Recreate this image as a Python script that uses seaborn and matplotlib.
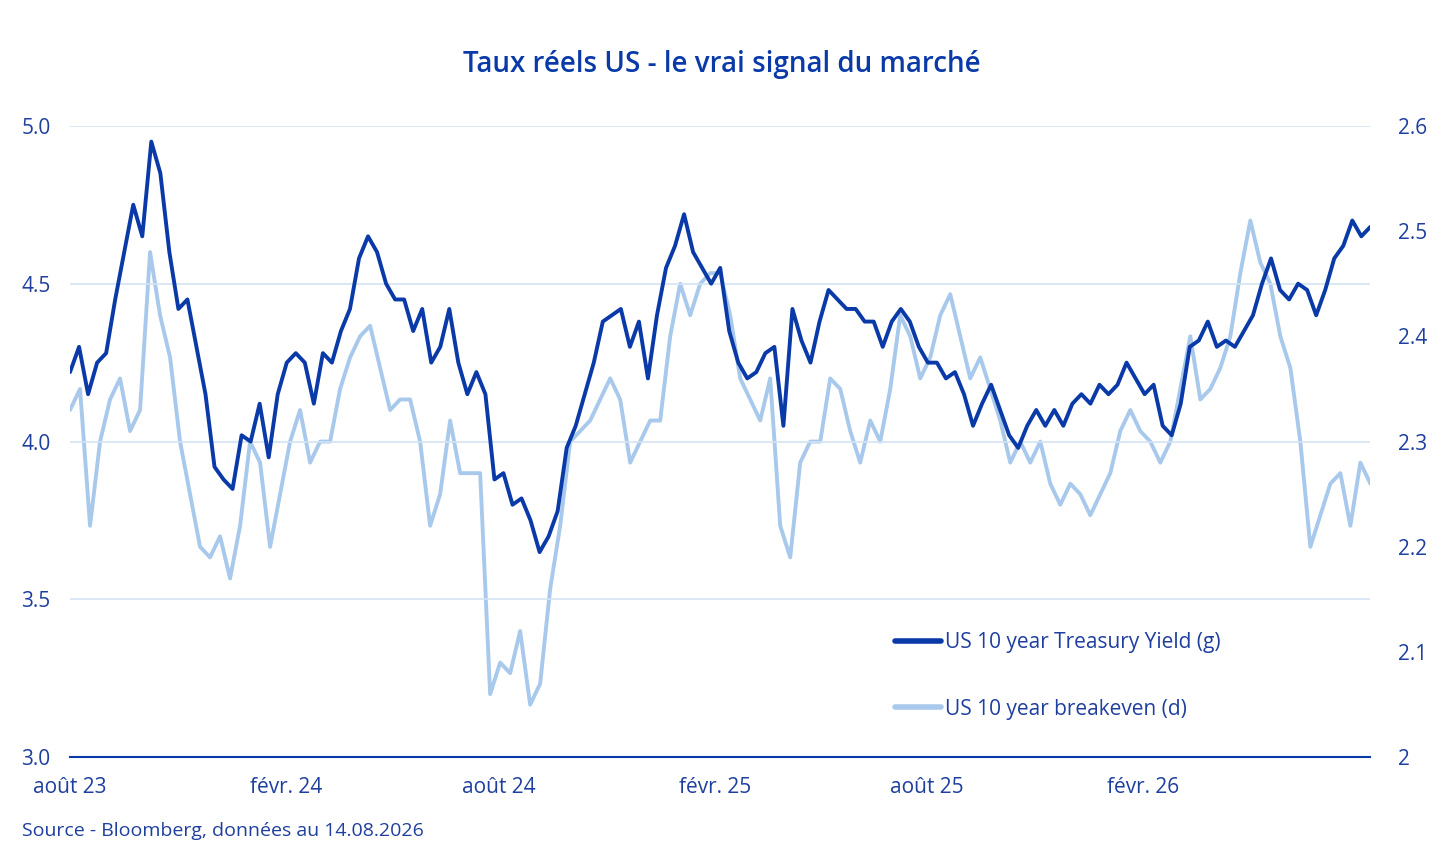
import numpy as np
import pandas as pd
import matplotlib.pyplot as plt
import matplotlib.dates as mdates
import seaborn as sns

# Données (approx. hebdomadaire)
treasury = [4.22, 4.3, 4.15, 4.25, 4.28, 4.45, 4.6, 4.75, 4.65, 4.95, 4.85, 4.6, 4.42, 4.45, 4.3,
            4.15, 3.92, 3.88, 3.85, 4.02, 4.0, 4.12, 3.95, 4.15, 4.25, 4.28, 4.25, 4.12, 4.28, 4.25,
            4.35, 4.42, 4.58, 4.65, 4.6, 4.5, 4.45, 4.45, 4.35, 4.42, 4.25, 4.3, 4.42, 4.25, 4.15,
            4.22, 4.15, 3.88, 3.9, 3.8, 3.82, 3.75, 3.65, 3.7, 3.78, 3.98, 4.05, 4.15, 4.25, 4.38,
            4.4, 4.42, 4.3, 4.38, 4.2, 4.4, 4.55, 4.62, 4.72, 4.6, 4.55, 4.5, 4.55, 4.35, 4.25,
            4.2, 4.22, 4.28, 4.3, 4.05, 4.42, 4.32, 4.25, 4.38, 4.48, 4.45, 4.42, 4.42, 4.38, 4.38,
            4.3, 4.38, 4.42, 4.38, 4.3, 4.25, 4.25, 4.2, 4.22, 4.15, 4.05, 4.12, 4.18, 4.1, 4.02,
            3.98, 4.05, 4.1, 4.05, 4.1, 4.05, 4.12, 4.15, 4.12, 4.18, 4.15, 4.18, 4.25, 4.2, 4.15,
            4.18, 4.05, 4.02, 4.12, 4.3, 4.32, 4.38, 4.3, 4.32, 4.3, 4.35, 4.4, 4.5, 4.58, 4.48,
            4.45, 4.5, 4.48, 4.4, 4.48, 4.58, 4.62, 4.7, 4.65, 4.68]
breakeven = [2.33, 2.35, 2.22, 2.3, 2.34, 2.36, 2.31, 2.33, 2.48, 2.42, 2.38, 2.3, 2.25, 2.2, 2.19,
             2.21, 2.17, 2.22, 2.3, 2.28, 2.2, 2.25, 2.3, 2.33, 2.28, 2.3, 2.3, 2.35, 2.38, 2.4,
             2.41, 2.37, 2.33, 2.34, 2.34, 2.3, 2.22, 2.25, 2.32, 2.27, 2.27, 2.27, 2.06, 2.09, 2.08,
             2.12, 2.05, 2.07, 2.16, 2.22, 2.3, 2.31, 2.32, 2.34, 2.36, 2.34, 2.28, 2.3, 2.32, 2.32,
             2.4, 2.45, 2.42, 2.45, 2.46, 2.46, 2.42, 2.36, 2.34, 2.32, 2.36, 2.22, 2.19, 2.28, 2.3,
             2.3, 2.36, 2.35, 2.31, 2.28, 2.32, 2.3, 2.35, 2.42, 2.4, 2.36, 2.38, 2.42, 2.44, 2.4,
             2.36, 2.38, 2.35, 2.32, 2.28, 2.3, 2.28, 2.3, 2.26, 2.24, 2.26, 2.25, 2.23, 2.25, 2.27,
             2.31, 2.33, 2.31, 2.3, 2.28, 2.3, 2.35, 2.4, 2.34, 2.35, 2.37, 2.4, 2.46, 2.51, 2.47,
             2.45, 2.4, 2.37, 2.3, 2.2, 2.23, 2.26, 2.27, 2.22, 2.28, 2.26]

start, end = "2023-08-01", "2026-08-14"
df_t = pd.DataFrame({"date": pd.date_range(start, end, periods=len(treasury)), "val": treasury})
df_b = pd.DataFrame({"date": pd.date_range(start, end, periods=len(breakeven)), "val": breakeven})

dark = "#0a3aa8"
light = "#a8c9ec"
txt = "#1f3f9e"

sns.set_style("white")
plt.rcParams["font.family"] = ["Open Sans", "DejaVu Sans"]

fig = plt.figure(figsize=(14.44, 8.5), dpi=100)
ax = fig.add_axes([0.0485, 0.109, 0.9005, 0.743])
ax2 = ax.twinx()

sns.lineplot(data=df_b, x="date", y="val", ax=ax2, color=light, linewidth=2.8)
sns.lineplot(data=df_t, x="date", y="val", ax=ax, color=dark, linewidth=2.8)
ax.set_zorder(ax2.get_zorder() + 1)
ax.patch.set_visible(False)

ax.set_ylim(3.0, 5.0)
ax2.set_ylim(2.0, 2.6)
ax.set_yticks([3.0, 3.5, 4.0, 4.5, 5.0])
ax.set_yticklabels(["3.0", "3.5", "4.0", "4.5", "5.0"])
ax2.set_yticks([2.0, 2.1, 2.2, 2.3, 2.4, 2.5, 2.6])
ax2.set_yticklabels(["2", "2.1", "2.2", "2.3", "2.4", "2.5", "2.6"])
ax.set_xlim(pd.Timestamp(start), pd.Timestamp(end))
ticks = pd.to_datetime(["2023-08-01", "2024-02-01", "2024-08-01", "2025-02-01", "2025-08-01", "2026-02-01"])
ax.set_xticks(ticks)
ax.set_xticklabels(["août 23", "févr. 24", "août 24", "févr. 25", "août 25", "févr. 26"])

ax.grid(axis="y", color="#d3e3f3", linewidth=1.2)
ax.set_axisbelow(True)
for a in (ax, ax2):
    a.set_xlabel("")
    a.set_ylabel("")
    for s in ("top", "right", "left", "bottom"):
        a.spines[s].set_visible(False)
ax.spines["bottom"].set_visible(True)
ax.spines["bottom"].set_color(dark)
ax.spines["bottom"].set_linewidth(1.5)
ax.tick_params(axis="x", colors=txt, labelsize=15, length=8, width=1.5, color=dark, direction="out", pad=6)
ax.tick_params(axis="y", colors=txt, labelsize=15, length=0, pad=14)
ax2.tick_params(axis="y", colors=txt, labelsize=15, length=0, pad=20)

h1, = ax.plot([], [], color=dark, linewidth=4)
h2, = ax.plot([], [], color=light, linewidth=4)
leg = ax.legend([h1, h2], ["US 10 year Treasury Yield (g)", "US 10 year breakeven (d)"],
                loc="lower left", bbox_to_anchor=(0.62, 0.03), frameon=False, fontsize=15,
                handlelength=2.2, handletextpad=0.2, labelspacing=2.2)
for t in leg.get_texts():
    t.set_color(txt)

fig.text(0.5, 0.915, "Taux réels US - le vrai signal du marché", ha="center",
         fontsize=20, fontweight="semibold", color="#0a3aa8")
fig.text(0.015, 0.016, "Source - Bloomberg, données au 14.08.2026", fontsize=14, color=txt)

plt.savefig("out.png", dpi=100)
